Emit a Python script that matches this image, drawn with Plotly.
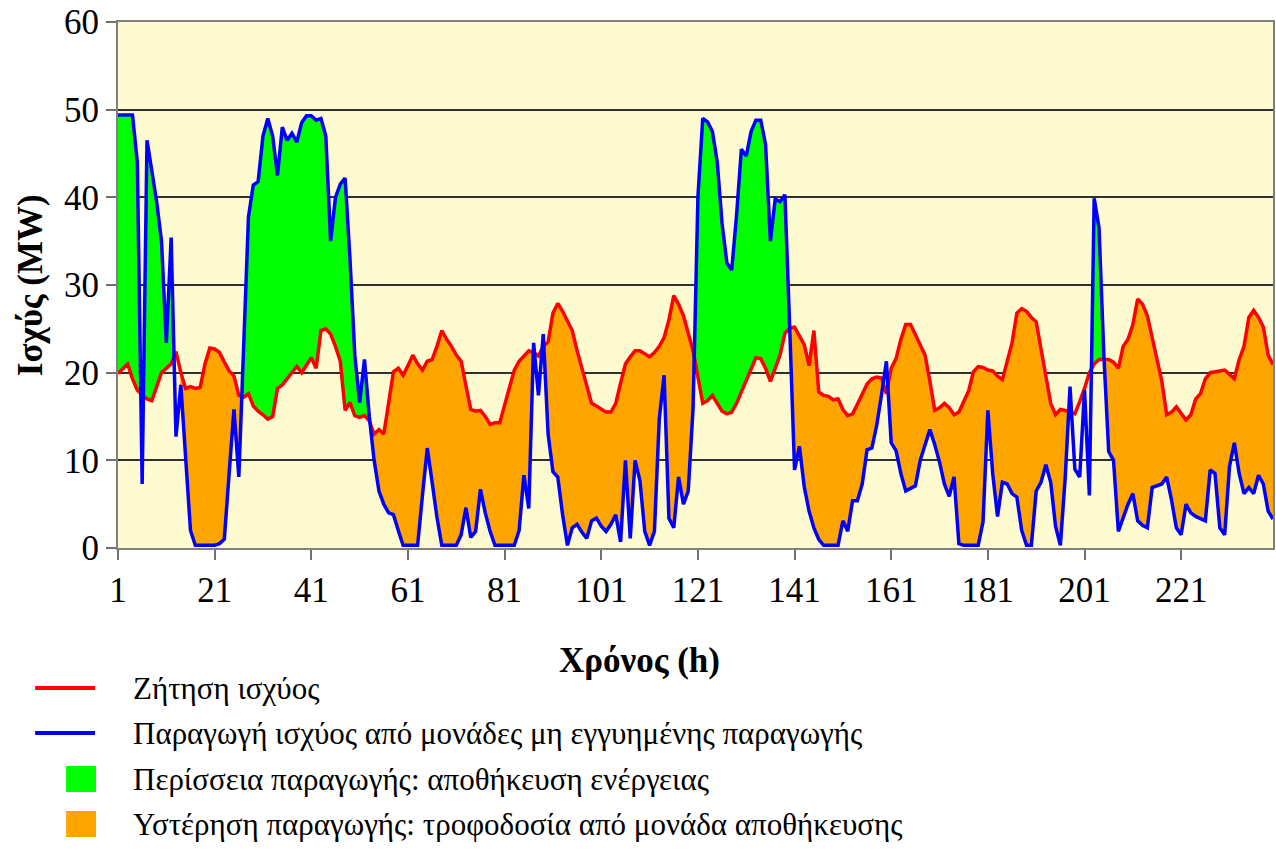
import numpy as np
import plotly.graph_objects as go

hours = list(range(1, 241))

demand = [
    19.9, 20.5, 21.0, 19.3, 18.0, 17.5, 17.0, 16.8, 18.5, 20.0,
    20.5, 21.0, 22.4, 20.0, 18.2, 18.4, 18.2, 18.3, 21.0, 22.8,
    22.7, 22.3, 21.2, 20.2, 19.6, 17.4, 17.2, 17.6, 16.2, 15.6,
    15.2, 14.7, 15.0, 18.2, 18.6, 19.3, 20.1, 20.7, 20.0, 20.8,
    21.7, 20.5, 24.8, 25.0, 24.4, 23.0, 21.3, 15.7, 16.6, 15.1,
    14.9, 15.1, 14.5, 13.0, 13.5, 13.0, 16.5, 20.1, 20.5, 19.7,
    20.8, 22.0, 21.0, 20.3, 21.3, 21.5, 23.0, 24.8, 23.8, 23.0,
    22.0, 21.3, 18.5, 15.8, 15.6, 15.7, 15.0, 14.1, 14.3, 14.3,
    16.3, 18.5, 20.3, 21.3, 21.9, 22.5, 22.3, 21.9, 23.0, 23.5,
    26.8, 27.9, 27.0, 25.9, 24.8, 22.5, 20.5, 18.2, 16.5, 16.2,
    15.9, 15.5, 15.5, 16.5, 18.8, 21.0, 21.8, 22.5, 22.5, 22.1,
    21.8, 22.3, 23.0, 24.0, 26.0, 28.8, 27.8, 26.5, 24.5, 22.5,
    19.5, 16.5, 16.8, 17.4, 16.5, 15.6, 15.3, 15.5, 16.5, 17.8,
    19.2, 20.3, 21.7, 21.6, 20.5, 19.0, 20.5, 22.0, 24.5, 25.1,
    25.2, 24.2, 23.2, 20.8, 24.8, 17.8, 17.4, 17.3, 16.9, 17.0,
    15.8, 15.1, 15.3, 16.4, 17.6, 18.7, 19.3, 19.5, 19.4, 17.6,
    20.5, 21.6, 23.8, 25.5, 25.5, 24.3, 23.3, 22.0, 19.0, 15.7,
    16.0, 16.5, 16.0, 15.2, 15.5, 16.8, 17.9, 20.1, 20.7, 20.6,
    20.3, 20.2, 19.6, 19.2, 21.5, 23.4, 26.8, 27.3, 27.0, 26.3,
    25.8, 22.6, 19.6, 16.5, 15.2, 15.8, 15.7, 15.5, 15.3, 16.7,
    18.2, 20.0, 21.0, 21.5, 21.5, 21.5, 21.2, 20.5, 23.0, 23.8,
    25.5, 28.4, 27.8, 26.5, 24.0, 21.3, 19.0, 15.2, 15.5, 16.1,
    15.4, 14.6, 15.2, 17.0, 17.6, 19.3, 20.0, 20.1, 20.1, 20.3,
    19.8, 19.3, 21.5, 23.0, 26.3, 27.1, 26.3, 25.2, 22.0, 20.9,
]

production = [
    49.4, 49.4, 49.4, 49.4, 44.0, 7.3, 46.5, 43.0, 39.5, 35.0,
    23.4, 35.4, 12.7, 18.6, 10.0, 2.0, 0.3, 0.3, 0.3, 0.3,
    0.3, 0.5, 1.0, 8.5, 15.8, 8.1, 23.0, 37.8, 41.4, 41.8,
    47.0, 49.0, 47.0, 42.5, 48.0, 46.5, 47.3, 46.3, 48.5, 49.3,
    49.3, 48.8, 49.0, 47.0, 35.0, 40.0, 41.5, 42.2, 33.0, 22.0,
    16.6, 21.5, 15.0, 10.0, 6.5, 5.0, 4.0, 3.8, 2.0, 0.3,
    0.3, 0.3, 0.3, 6.0, 11.4, 7.5, 3.5, 0.3, 0.3, 0.3,
    0.3, 1.5, 4.6, 1.2, 1.9, 6.7, 4.0, 1.9, 0.3, 0.3,
    0.3, 0.3, 0.3, 2.0, 8.3, 4.5, 23.4, 17.4, 24.4, 13.0,
    8.7, 8.1, 3.8, 0.3, 2.3, 2.7, 1.8, 1.1, 3.1, 3.4,
    2.5, 1.9, 2.7, 3.8, 0.7, 10.0, 1.1, 10.0, 7.7, 1.9,
    0.3, 1.9, 14.7, 19.7, 3.4, 2.3, 8.1, 5.0, 6.5, 16.0,
    40.0, 49.0, 48.6, 47.5, 44.0, 37.0, 32.5, 31.7, 38.0, 45.5,
    44.7, 47.5, 48.8, 48.8, 46.0, 35.0, 39.8, 39.5, 40.3, 25.0,
    8.9, 11.6, 7.0, 4.2, 2.3, 1.0, 0.3, 0.3, 0.3, 0.3,
    3.1, 1.9, 5.4, 5.4, 7.3, 11.2, 11.4, 14.0, 17.5, 21.3,
    12.0, 11.1, 8.5, 6.5, 6.8, 7.1, 10.0, 11.6, 13.5, 11.8,
    9.8, 7.3, 5.9, 8.1, 0.5, 0.3, 0.3, 0.3, 0.3, 3.0,
    15.7, 8.5, 3.6, 7.5, 7.3, 6.2, 5.8, 2.0, 0.3, 0.3,
    6.5, 7.5, 9.5, 7.5, 2.5, 0.3, 8.0, 18.4, 9.0, 8.1,
    18.0, 6.0, 39.9, 36.5, 22.0, 11.0, 10.0, 1.9, 3.5, 5.0,
    6.2, 3.1, 2.6, 2.3, 6.9, 7.1, 7.3, 8.1, 5.5, 2.3,
    1.5, 5.0, 4.0, 3.6, 3.4, 3.1, 8.9, 8.5, 2.3, 1.5,
    9.3, 12.0, 8.5, 6.2, 6.9, 6.2, 8.3, 7.3, 4.2, 3.3,
]

# hours where the chart shows no storage / no supply shading
no_excess_fill_hours = [87, 89, 160, 198]
no_deficit_fill_hours = [6, 13, 88, 199, 200, 201, 202]

x_tick_values = [1, 21, 41, 61, 81, 101, 121, 141, 161, 181, 201, 221]
y_tick_values = [0, 10, 20, 30, 40, 50, 60]

legend_labels = [
    "Ζήτηση ισχύος",
    "Παραγωγή ισχύος από μονάδες μη εγγυημένης παραγωγής",
    "Περίσσεια παραγωγής: αποθήκευση ενέργειας",
    "Υστέρηση παραγωγής: τροφοδοσία από μονάδα αποθήκευσης",
]

assert len(demand) == len(hours) == len(production)

RED = "#FF0000"
BLUE = "#0000FF"
GREEN = "#00FF00"
ORANGE = "#FFA500"
FONT = "Liberation Serif"

# ---- build fill boundaries (with exact crossing points inserted) ----
D = np.array(demand, float)
P = np.array(production, float)
H = np.array(hours, float)
g_ok = np.array([h not in no_excess_fill_hours for h in hours])
o_ok = np.array([h not in no_deficit_fill_hours for h in hours])

xs, ds, ps, gs, os_ = [], [], [], [], []
for i in range(len(H)):
    xs.append(H[i]); ds.append(D[i]); ps.append(P[i])
    gs.append(max(P[i], D[i]) if g_ok[i] else D[i])
    os_.append(max(P[i], D[i]) if o_ok[i] else P[i])
    if i < len(H) - 1:
        a = P[i] - D[i]
        b = P[i + 1] - D[i + 1]
        if a * b < 0:
            t = a / (a - b)
            xc = H[i] + t * (H[i + 1] - H[i])
            yc = D[i] + t * (D[i + 1] - D[i])
            xs.append(xc); ds.append(yc); ps.append(yc); gs.append(yc); os_.append(yc)

fig = go.Figure()
# excess (green) between demand and production
fig.add_trace(go.Scatter(x=xs, y=ds, mode="lines", line=dict(width=0, color=GREEN),
                         hoverinfo="skip", showlegend=False))
fig.add_trace(go.Scatter(x=xs, y=gs, mode="lines", line=dict(width=0, color=GREEN),
                         fill="tonexty", fillcolor=GREEN, hoverinfo="skip", showlegend=False))
# deficit (orange) between production and demand
fig.add_trace(go.Scatter(x=xs, y=ps, mode="lines", line=dict(width=0, color=ORANGE),
                         hoverinfo="skip", showlegend=False))
fig.add_trace(go.Scatter(x=xs, y=os_, mode="lines", line=dict(width=0, color=ORANGE),
                         fill="tonexty", fillcolor=ORANGE, hoverinfo="skip", showlegend=False))
# lines
fig.add_trace(go.Scatter(x=hours, y=demand, mode="lines", line=dict(color=RED, width=3.5),
                         name=legend_labels[0], showlegend=False))
fig.add_trace(go.Scatter(x=hours, y=production, mode="lines", line=dict(color=BLUE, width=3.5),
                         name=legend_labels[1], showlegend=False))

W, Hh = 1276, 849
L, R, T, B = 118, 1275, 22, 548


def px(xp):
    return (xp - L) / (R - L)


def py(yp):
    return (B - yp) / (B - T)


shapes = []
annotations = []
rows = [688, 733, 779, 824]
for k, (lab, yrow) in enumerate(zip(legend_labels, rows)):
    if k < 2:
        shapes.append(dict(type="line", xref="paper", yref="paper",
                           x0=px(35), x1=px(95), y0=py(yrow), y1=py(yrow),
                           line=dict(color=[RED, BLUE][k], width=4)))
    else:
        shapes.append(dict(type="rect", xref="paper", yref="paper",
                           x0=px(66), x1=px(96), y0=py(yrow - 13), y1=py(yrow + 13),
                           line=dict(width=0), fillcolor=[GREEN, ORANGE][k - 2]))
    annotations.append(dict(text=lab, xref="paper", yref="paper", x=px(131), y=py(yrow),
                            xanchor="left", yanchor="middle", showarrow=False,
                            font=dict(family=FONT, size=31, color="black")))

annotations.append(dict(text="<b>Χρόνος (h)</b>", xref="paper", yref="paper",
                        x=px(640), y=py(660), xanchor="center", yanchor="middle",
                        showarrow=False, font=dict(family=FONT, size=35, color="black")))
annotations.append(dict(text="<b>Ισχύς (MW)</b>", xref="paper", yref="paper",
                        x=px(30), y=py(285), xanchor="center", yanchor="middle",
                        textangle=-90, showarrow=False,
                        font=dict(family=FONT, size=35, color="black")))

fig.update_layout(
    width=W, height=Hh,
    margin=dict(l=L, r=W - R, t=T, b=Hh - B, pad=0),
    paper_bgcolor="white",
    plot_bgcolor="#FFFBD0",
    showlegend=False,
    shapes=shapes,
    annotations=annotations,
    xaxis=dict(range=[1, 240], tickvals=x_tick_values, ticks="outside", ticklen=10,
               tickwidth=1.5, tickcolor="#707070", showgrid=False, zeroline=False,
               showline=True, linecolor="#808080", linewidth=2, mirror=True,
               tickfont=dict(family=FONT, size=35, color="black"), layer="above traces"),
    yaxis=dict(range=[0, 60], tickvals=y_tick_values, ticks="outside", ticklen=10,
               tickwidth=1.5, tickcolor="#707070", showgrid=True, gridcolor="#303030",
               gridwidth=1.5, zeroline=False, showline=True, linecolor="#808080",
               linewidth=2, mirror=True,
               tickfont=dict(family=FONT, size=35, color="black"), layer="above traces"),
)

fig.write_html("out.html")
